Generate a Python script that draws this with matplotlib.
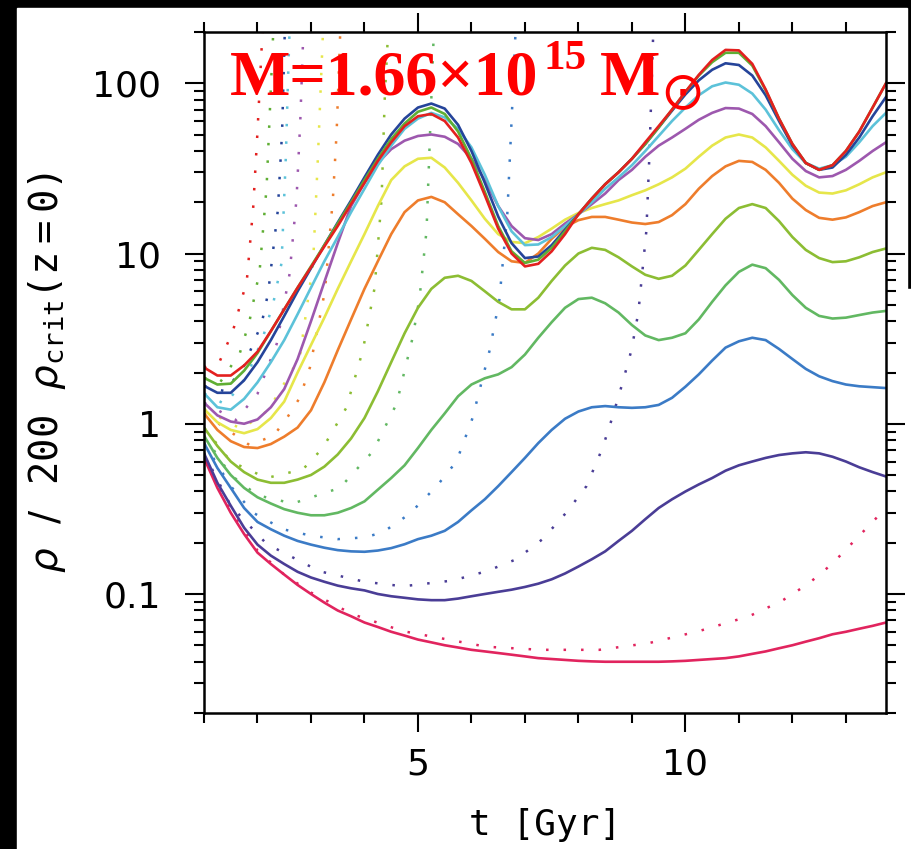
import matplotlib.pyplot as plt
from matplotlib.patches import Rectangle
from matplotlib.ticker import MultipleLocator, LogLocator, NullFormatter

# cosmic time [Gyr] shared by the solid curves (quarter-Gyr steps)
t = [1.0, 1.25, 1.5, 1.75, 2.0, 2.25, 2.5, 2.75, 3.0, 3.25, 3.5, 3.75, 4.0,
     4.25, 4.5, 4.75, 5.0, 5.25, 5.5, 5.75, 6.0, 6.25, 6.5, 6.75, 7.0,
     7.25, 7.5, 7.75, 8.0, 8.25, 8.5, 8.75, 9.0, 9.25, 9.5, 9.75, 10.0,
     10.25, 10.5, 10.75, 11.0, 11.25, 11.5, 11.75, 12.0, 12.25, 12.5, 12.75,
     13.0, 13.25, 13.5, 13.75]

# mean density inside each shell, rho / 200 rho_crit(z=0)
rho_red = [2.14, 1.92, 1.92, 2.2, 2.65, 3.5, 4.7, 6.3, 8.3, 11, 14.5, 19.5, 26,
           35, 45, 56, 64, 66, 60, 48, 34, 22, 14, 10, 8.4,
           8.7, 10.3, 13, 17, 21, 25.5, 30, 36, 45, 56, 70, 89,
           112, 137, 157, 156, 130, 92, 62, 44, 34, 31, 33,
           40, 52, 72, 100]
rho_green = [1.86, 1.7, 1.72, 2.05, 2.6, 3.5, 4.7, 6.3, 8.4, 11.2, 15, 20, 27,
             36, 47, 58, 68, 72, 66, 52, 36, 23, 14.5, 10.3, 8.8,
             9.2, 10.8, 13.5, 17, 21, 25.5, 30, 36, 44, 55, 70, 89,
             111, 133, 151, 151, 127, 91, 62, 44, 34, 31, 33,
             40, 52, 72, 100]
rho_navy = [1.67, 1.52, 1.52, 1.8, 2.3, 3.1, 4.3, 6.0, 8.2, 11.2, 15.2, 20.5, 28,
            38, 50, 62, 72, 76, 71, 57, 40, 26, 16.5, 11.5, 9.4,
            9.6, 11.2, 13.8, 17, 21, 25.5, 30, 36, 44, 55, 69, 86,
            104, 120, 131, 128, 111, 85, 60, 43, 34, 31, 32,
            38, 48, 64, 83]
rho_cyan = [1.51, 1.25, 1.21, 1.4, 1.75, 2.3, 3.1, 4.4, 6.3, 9, 12.5, 17.5, 24,
            33, 43, 54, 62, 67, 63, 54, 42, 29, 19, 13.5, 11.2,
            11.3, 12.5, 14.5, 17, 20, 24, 28, 33, 40, 49, 60, 72,
            85, 96, 101, 98, 87, 70, 53, 41, 34, 31.5, 33,
            37, 45, 56, 67]
rho_purple = [1.33, 1.12, 1.03, 1.0, 1.06, 1.25, 1.6, 2.4, 4.0, 6.8, 11.5, 19, 26,
              34, 41, 46, 49, 50, 48.5, 44, 36, 27, 19, 14.5, 12.3,
              12, 13, 15, 17, 19.5, 22.5, 27, 31, 37, 43, 48, 54,
              61, 67, 71.5, 71, 66, 56, 45, 36, 30.5, 28, 28.5,
              31, 35, 40, 45]
rho_yellow = [1.22, 1.02, 0.92, 0.88, 0.93, 1.08, 1.35, 2.0, 2.9, 4.2, 6.2, 9.0, 13,
              19, 27, 32.5, 36, 36.5, 32, 26, 20.5, 16, 13, 11.7, 11.5,
              12.5, 14, 15.8, 17.3, 18.5, 19.5, 20.5, 22, 23.5, 25.5, 28, 31.5,
              37, 43, 48, 50, 48, 42, 35, 29, 25, 22.8, 22.5,
              23.5, 25.5, 28, 30]
rho_orange = [1.15, 0.92, 0.79, 0.73, 0.72, 0.76, 0.84, 0.95, 1.2, 1.75, 2.7, 4.1, 6.2,
              9.0, 13, 17.5, 20.5, 21.5, 20, 17, 14.5, 12.2, 10.2, 9.0, 8.8,
              10, 12.2, 14.3, 15.7, 16.4, 16.4, 15.8, 15.2, 14.9, 15.3, 16.8, 19.5,
              24, 28.5, 32.5, 35, 34.5, 31, 26, 21, 18, 16.2, 15.8,
              16.3, 17.5, 19, 20]
rho_lime = [0.95, 0.74, 0.6, 0.52, 0.47, 0.45, 0.45, 0.47, 0.5, 0.56, 0.66, 0.82, 1.08,
            1.55, 2.3, 3.4, 4.8, 6.2, 7.2, 7.4, 6.9, 6.0, 5.2, 4.7, 4.7,
            5.5, 6.9, 8.5, 10, 10.8, 10.5, 9.5, 8.4, 7.5, 7.1, 7.4, 8.5,
            10.5, 13, 16, 18.5, 19.5, 18.5, 15.5, 12.5, 10.5, 9.4, 8.9,
            9.0, 9.5, 10.2, 10.7]
rho_leaf = [0.85, 0.63, 0.5, 0.42, 0.37, 0.34, 0.315, 0.3, 0.29, 0.29, 0.3, 0.32, 0.35,
            0.41, 0.48, 0.57, 0.72, 0.92, 1.15, 1.45, 1.7, 1.85, 1.95, 2.15, 2.55,
            3.2, 3.95, 4.8, 5.4, 5.5, 5.1, 4.5, 3.8, 3.3, 3.1, 3.2, 3.4,
            4.1, 5.2, 6.5, 7.8, 8.6, 8.2, 7.0, 5.7, 4.8, 4.3, 4.15,
            4.2, 4.35, 4.5, 4.6]
rho_blue = [0.77, 0.55, 0.42, 0.32, 0.265, 0.24, 0.22, 0.205, 0.195, 0.187, 0.181, 0.178, 0.177,
            0.18, 0.186, 0.196, 0.21, 0.22, 0.235, 0.265, 0.31, 0.36, 0.43, 0.52, 0.63,
            0.77, 0.92, 1.07, 1.18, 1.25, 1.27, 1.25, 1.24, 1.25, 1.29, 1.42, 1.65,
            1.95, 2.35, 2.8, 3.05, 3.2, 3.1, 2.75, 2.4, 2.1, 1.9, 1.78,
            1.7, 1.66, 1.64, 1.62]
rho_indigo = [0.67, 0.45, 0.33, 0.245, 0.195, 0.168, 0.15, 0.135, 0.125, 0.118, 0.112, 0.108, 0.105,
              0.1, 0.097, 0.095, 0.093, 0.092, 0.092, 0.094, 0.097, 0.1, 0.103, 0.106, 0.11,
              0.115, 0.122, 0.132, 0.145, 0.16, 0.178, 0.205, 0.235, 0.275, 0.32, 0.36, 0.4,
              0.44, 0.48, 0.53, 0.57, 0.6, 0.63, 0.655, 0.67, 0.68, 0.67, 0.64,
              0.6, 0.555, 0.52, 0.49]
rho_crimson = [0.63, 0.42, 0.3, 0.225, 0.175, 0.15, 0.13, 0.113, 0.1, 0.089, 0.08, 0.074, 0.068,
               0.064, 0.06, 0.057, 0.054, 0.052, 0.05, 0.0485, 0.047, 0.046, 0.045, 0.044, 0.043,
               0.042, 0.0415, 0.041, 0.0405, 0.0402, 0.04, 0.04, 0.04, 0.04, 0.04, 0.0402, 0.0405,
               0.041, 0.0415, 0.042, 0.043, 0.0445, 0.046, 0.048, 0.05, 0.0525, 0.055, 0.058,
               0.06, 0.0625, 0.065, 0.068]

# dotted tracks: same shells without the late-time turnaround
td_red = [1.0, 1.3, 1.54, 1.8, 1.92, 2.0, 2.08, 2.12]
rd_red = [2.14, 2.35, 3.5, 6.9, 18.7, 52, 167, 260]
td_green = [1.0, 1.3, 1.67, 1.85, 2.04, 2.17, 2.23, 2.31]
rd_green = [1.86, 1.75, 2.6, 4.0, 7.9, 24.5, 67, 260]
td_navy = [1.0, 1.4, 1.75, 2.08, 2.2, 2.27, 2.38, 2.46, 2.52]
rd_navy = [1.67, 1.55, 2.2, 3.9, 5.9, 9.1, 17.9, 52, 260]
td_cyan = [1.0, 1.4, 1.8, 2.1, 2.3, 2.45, 2.53, 2.57, 2.61]
rd_cyan = [1.51, 1.3, 1.9, 3.2, 5.2, 8.8, 37, 104, 260]
td_purple = [1.0, 1.6, 2.0, 2.36, 2.6, 2.73, 2.8, 2.87]
rd_purple = [1.33, 1.05, 1.5, 2.95, 7.6, 21, 60, 260]
td_yellow = [1.0, 1.7, 2.2, 2.79, 3.04, 3.13, 3.2, 3.24]
rd_yellow = [1.22, 0.93, 1.2, 2.45, 8.8, 37, 131, 260]
td_orange = [1.0, 1.85, 2.3, 2.55, 2.79, 2.98, 3.26, 3.41, 3.48, 3.56]
rd_orange = [1.15, 0.75, 0.85, 1.08, 1.42, 2.14, 6.0, 21, 52, 260]
td_lime = [1.0, 1.5, 2.17, 2.85, 3.22, 3.66, 3.97, 4.19, 4.32, 4.38, 4.46]
rd_lime = [0.95, 0.6, 0.48, 0.54, 0.72, 1.24, 2.7, 6.3, 21, 83, 260]
td_leaf = [1.0, 1.5, 2.0, 2.66, 3.54, 4.16, 4.6, 4.9, 5.03, 5.16, 5.23, 5.31]
rd_leaf = [0.85, 0.5, 0.38, 0.34, 0.42, 0.69, 1.31, 3.2, 5.5, 13.6, 55, 260]
td_blue = [1.0, 1.5, 1.92, 2.48, 3.0, 3.5, 4.0, 4.34, 4.84, 5.35, 5.72, 6.02, 6.34, 6.52,
           6.67, 6.77, 6.84]
rd_blue = [0.77, 0.43, 0.3, 0.24, 0.22, 0.21, 0.215, 0.23, 0.295, 0.43, 0.6, 1.08, 2.7, 5.3,
           17, 83, 260]
td_indigo = [1.0, 1.5, 2.17, 3.16, 4.0, 4.72, 5.65, 6.28, 6.84, 7.33, 7.77, 8.15, 8.45, 8.63,
             8.82, 8.99, 9.12, 9.27, 9.33, 9.41]
rd_indigo = [0.67, 0.33, 0.197, 0.136, 0.118, 0.111, 0.12, 0.136, 0.16, 0.21, 0.3, 0.43, 0.72, 1.08,
             1.72, 2.7, 4.5, 13.6, 40, 260]
td_crimson = [1.0, 1.5, 2.0, 2.5, 3.0, 3.78, 4.72, 6.28, 7.3, 8.39, 9.32, 10.25, 11.19, 11.8,
              12.3, 12.74, 13.25, 13.75]
rd_crimson = [0.63, 0.31, 0.18, 0.13, 0.102, 0.076, 0.0605, 0.049, 0.047, 0.047, 0.0515, 0.0605, 0.074, 0.091,
              0.115, 0.15, 0.22, 0.32]

curves = [
    ('#e3201f', rho_red, td_red, rd_red),
    ('#5fae34', rho_green, td_green, rd_green),
    ('#25449a', rho_navy, td_navy, rd_navy),
    ('#5cc2d9', rho_cyan, td_cyan, rd_cyan),
    ('#9d58ae', rho_purple, td_purple, rd_purple),
    ('#e6e64a', rho_yellow, td_yellow, rd_yellow),
    ('#ee7d2c', rho_orange, td_orange, rd_orange),
    ('#8cbd33', rho_lime, td_lime, rd_lime),
    ('#62b862', rho_leaf, td_leaf, rd_leaf),
    ('#3b7bc6', rho_blue, td_blue, rd_blue),
    ('#4a3d96', rho_indigo, td_indigo, rd_indigo),
    ('#e1245e', rho_crimson, td_crimson, rd_crimson),
]

fig = plt.figure(figsize=(9.12, 8.49), dpi=100, facecolor='black')
# white page on the black frame
fig.patches.append(Rectangle((17 / 912, 0), 890 / 912, 841 / 849,
                             transform=fig.transFigure, color='white', zorder=-10))
fig.patches.append(Rectangle((900 / 912, 0), 12 / 912, 560 / 849,
                             transform=fig.transFigure, color='white', zorder=-10))

ax = fig.add_axes([204 / 912, 136 / 849, 682 / 912, 681 / 849])
ax.set_facecolor('white')

for color, rho, td, rd in curves[::-1]:
    ax.plot(td, rd, color=color, lw=1.8, linestyle=(0, (1, 6)))
for color, rho, td, rd in curves[::-1]:
    ax.plot(t, rho, color=color, lw=1.9, solid_joinstyle='round')

ax.set_yscale('log')
ax.set_xlim(1, 13.75)
ax.set_ylim(0.02, 200)
ax.set_xticks([5, 10])
ax.xaxis.set_minor_locator(MultipleLocator(1))
ax.set_yticks([0.1, 1, 10, 100], labels=['0.1', '1', '10', '100'])
ax.yaxis.set_minor_locator(LogLocator(base=10, subs=range(2, 10)))
ax.yaxis.set_minor_formatter(NullFormatter())

for side in ax.spines.values():
    side.set_linewidth(1.8)
ax.tick_params(which='both', direction='out', top=True, right=True,
               width=1.5, labelsize=26, colors='black')
ax.tick_params(which='major', length=14)
ax.tick_params(which='minor', length=7)
ax.tick_params(axis='y', pad=17)
ax.tick_params(axis='x', pad=11)

ax.set_xlabel('t [Gyr]', fontsize=26, family='DejaVu Sans Mono')
ax.xaxis.set_label_coords(0.5, -0.14)
ax.set_ylabel(r'$\rho\ \ /\ \ \mathtt{200}\ \ \rho_{\mathtt{crit}}\mathtt{(z{=}0)}$',
              fontsize=28)
ax.yaxis.set_label_coords(-0.2, 0.5)

# halo mass label
red = '#ff0000'
serif = dict(family='Liberation Serif', weight='bold', color=red)
t1 = ax.text(0.038, 0.9075, 'M=1.66\u00d710', transform=ax.transAxes,
             fontsize=46, va='baseline', **serif)
t2 = ax.annotate('15', xy=(1, 1), xycoords=t1, xytext=(4, 8),
                 textcoords='offset points', fontsize=31, va='top', **serif)
t3 = ax.annotate('M', xy=(1, 0), xycoords=(t2, t1), xytext=(9, 0),
                 textcoords='offset points', fontsize=46, va='bottom', **serif)
ax.annotate('\u2299', xy=(1, 0), xycoords=t3, xytext=(0.5, -7),
            textcoords='offset points', fontsize=38, va='bottom',
            family='DejaVu Sans', color=red)

fig.savefig('out.png', dpi=100, facecolor=fig.get_facecolor())
